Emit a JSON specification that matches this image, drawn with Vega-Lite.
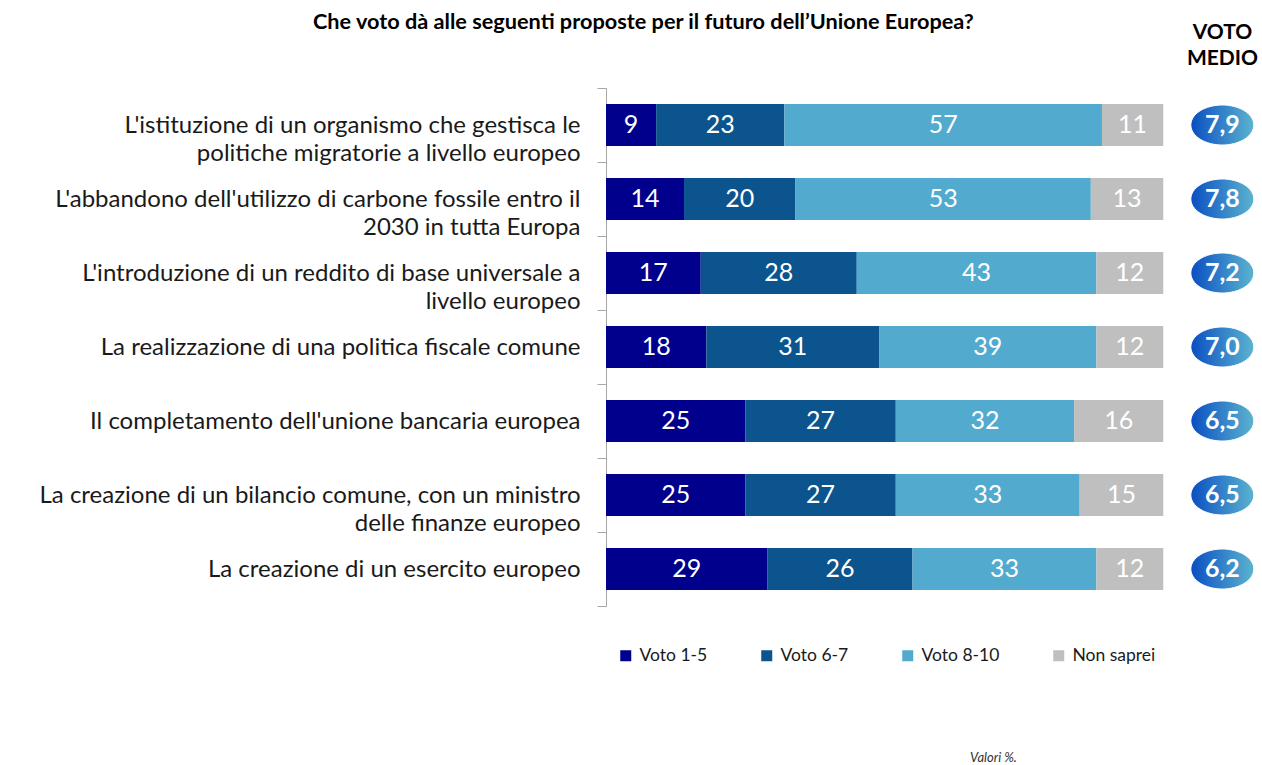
{
  "$schema": "https://vega.github.io/schema/vega-lite/v6.json",
  "autosize": {"type": "none"},
  "padding": {"left": 606, "top": 88, "right": 4, "bottom": 159},
  "width": 652,
  "height": 518,
  "background": "white",
  "config": {"font": "Lato", "view": {"stroke": null}},
  "title": {"text": "Che voto dà alle seguenti proposte per il futuro dell’Unione Europea?", "fontSize": 21.7, "fontWeight": "bold", "color": "#000000", "anchor": "start", "frame": "group", "dx": -293, "offset": -23, "baseline": "middle"},
  "datasets": {
    "bars": [
      {"item": "L'istituzione di un organismo che gestisca le|politiche migratorie a livello europeo", "cat": "Voto 1-5", "k": 1, "v": 9},
      {"item": "L'istituzione di un organismo che gestisca le|politiche migratorie a livello europeo", "cat": "Voto 6-7", "k": 2, "v": 23},
      {"item": "L'istituzione di un organismo che gestisca le|politiche migratorie a livello europeo", "cat": "Voto 8-10", "k": 3, "v": 57},
      {"item": "L'istituzione di un organismo che gestisca le|politiche migratorie a livello europeo", "cat": "Non saprei", "k": 4, "v": 11},
      {"item": "L'abbandono dell'utilizzo di carbone fossile entro il|2030 in tutta Europa", "cat": "Voto 1-5", "k": 1, "v": 14},
      {"item": "L'abbandono dell'utilizzo di carbone fossile entro il|2030 in tutta Europa", "cat": "Voto 6-7", "k": 2, "v": 20},
      {"item": "L'abbandono dell'utilizzo di carbone fossile entro il|2030 in tutta Europa", "cat": "Voto 8-10", "k": 3, "v": 53},
      {"item": "L'abbandono dell'utilizzo di carbone fossile entro il|2030 in tutta Europa", "cat": "Non saprei", "k": 4, "v": 13},
      {"item": "L'introduzione di un reddito di base universale a|livello europeo", "cat": "Voto 1-5", "k": 1, "v": 17},
      {"item": "L'introduzione di un reddito di base universale a|livello europeo", "cat": "Voto 6-7", "k": 2, "v": 28},
      {"item": "L'introduzione di un reddito di base universale a|livello europeo", "cat": "Voto 8-10", "k": 3, "v": 43},
      {"item": "L'introduzione di un reddito di base universale a|livello europeo", "cat": "Non saprei", "k": 4, "v": 12},
      {"item": "La realizzazione di una politica fiscale comune", "cat": "Voto 1-5", "k": 1, "v": 18},
      {"item": "La realizzazione di una politica fiscale comune", "cat": "Voto 6-7", "k": 2, "v": 31},
      {"item": "La realizzazione di una politica fiscale comune", "cat": "Voto 8-10", "k": 3, "v": 39},
      {"item": "La realizzazione di una politica fiscale comune", "cat": "Non saprei", "k": 4, "v": 12},
      {"item": "Il completamento dell'unione bancaria europea", "cat": "Voto 1-5", "k": 1, "v": 25},
      {"item": "Il completamento dell'unione bancaria europea", "cat": "Voto 6-7", "k": 2, "v": 27},
      {"item": "Il completamento dell'unione bancaria europea", "cat": "Voto 8-10", "k": 3, "v": 32},
      {"item": "Il completamento dell'unione bancaria europea", "cat": "Non saprei", "k": 4, "v": 16},
      {"item": "La creazione di un bilancio comune, con un ministro|delle finanze europeo", "cat": "Voto 1-5", "k": 1, "v": 25},
      {"item": "La creazione di un bilancio comune, con un ministro|delle finanze europeo", "cat": "Voto 6-7", "k": 2, "v": 27},
      {"item": "La creazione di un bilancio comune, con un ministro|delle finanze europeo", "cat": "Voto 8-10", "k": 3, "v": 33},
      {"item": "La creazione di un bilancio comune, con un ministro|delle finanze europeo", "cat": "Non saprei", "k": 4, "v": 15},
      {"item": "La creazione di un esercito europeo", "cat": "Voto 1-5", "k": 1, "v": 29},
      {"item": "La creazione di un esercito europeo", "cat": "Voto 6-7", "k": 2, "v": 26},
      {"item": "La creazione di un esercito europeo", "cat": "Voto 8-10", "k": 3, "v": 33},
      {"item": "La creazione di un esercito europeo", "cat": "Non saprei", "k": 4, "v": 12}
    ],
    "medio": [
      {"item": "L'istituzione di un organismo che gestisca le|politiche migratorie a livello europeo", "medio": "7,9"},
      {"item": "L'abbandono dell'utilizzo di carbone fossile entro il|2030 in tutta Europa", "medio": "7,8"},
      {"item": "L'introduzione di un reddito di base universale a|livello europeo", "medio": "7,2"},
      {"item": "La realizzazione di una politica fiscale comune", "medio": "7,0"},
      {"item": "Il completamento dell'unione bancaria europea", "medio": "6,5"},
      {"item": "La creazione di un bilancio comune, con un ministro|delle finanze europeo", "medio": "6,5"},
      {"item": "La creazione di un esercito europeo", "medio": "6,2"}
    ]
  },
  "resolve": {"axis": {"x": "independent"}},
  "encoding": {
    "y": {
      "field": "item", "type": "nominal", "sort": null,
      "scale": {"paddingInner": 0, "paddingOuter": 0},
      "axis": {"title": null, "labelExpr": "split(datum.label, '|')", "labelFontSize": 24, "labelColor": "#1a1a1a", "labelLineHeight": 28, "labelLimit": 0, "labelPadding": 17, "tickBand": "extent", "tickSize": 9, "tickColor": "#a6a6a6", "domainColor": "#a6a6a6",
        "encode": {"labels": {"update": {"dy": {"signal": "indexof(datum.value, '|') >= 0 ? -14 : 0"}}}}}
    }
  },
  "layer": [
    {
      "data": {"name": "bars"},
      "transform": [
        {"stack": "v", "groupby": ["item"], "sort": [{"field": "k", "order": "ascending"}], "as": ["x0", "x1"]},
        {"calculate": "(datum.x0 + datum.x1) / 2", "as": "mid"}
      ],
      "layer": [
        {
          "mark": {"type": "bar", "height": {"band": 0.568}},
          "encoding": {
            "x": {"field": "x0", "type": "quantitative", "scale": {"domain": [0, 117], "nice": false, "zero": true},
              "axis": {"orient": "bottom", "labels": false, "ticks": false, "domain": false, "grid": false, "title": "Valori %.", "titleFontStyle": "italic", "titleFontWeight": "normal", "titleFontSize": 13, "titleColor": "#333333", "titleX": 387, "titleY": 151, "titleAlign": "center", "titleBaseline": "middle"}},
            "x2": {"field": "x1"},
            "color": {"field": "cat", "type": "nominal",
              "scale": {"domain": ["Voto 1-5", "Voto 6-7", "Voto 8-10", "Non saprei"], "range": ["#00008c", "#0b548d", "#52abcf", "#bfbfbf"]},
              "legend": {"orient": "none", "legendX": 11, "legendY": 559, "direction": "horizontal", "columns": 4, "gridAlign": "none", "title": null, "symbolType": "square", "symbolSize": 121, "symbolStrokeWidth": 0, "labelFontSize": 17.5, "labelColor": "#1a1a1a", "labelOffset": 5, "columnPadding": 50}}
          }
        },
        {
          "mark": {"type": "text", "color": "white", "fontSize": 25},
          "encoding": {
            "x": {"field": "mid", "type": "quantitative"},
            "text": {"field": "v", "type": "quantitative"}
          }
        }
      ]
    },
    {
      "data": {"name": "medio"},
      "layer": [
        {
          "mark": {"type": "point", "filled": true, "shape": "M-1,0A1,0.635,0,1,0,1,0A1,0.635,0,1,0,-1,0Z", "size": 3969, "opacity": 1,
            "fill": {"gradient": "linear", "x1": 0, "y1": 0, "x2": 1, "y2": 0, "stops": [{"offset": 0, "color": "#0a4ec2"}, {"offset": 1, "color": "#5cb4cf"}]},
            "stroke": "#ffffff", "strokeWidth": 1},
          "encoding": {
            "x": {"datum": 110.6, "type": "quantitative",
              "axis": {"orient": "top", "labels": false, "ticks": false, "domain": false, "grid": false, "title": ["VOTO", "MEDIO"], "titleFontSize": 21, "titleFontWeight": "bold", "titleColor": "#000000", "titleLineHeight": 26, "titleX": 616, "titleY": -56, "titleAlign": "center", "titleBaseline": "middle", "titleAngle": 0}}
          }
        },
        {
          "mark": {"type": "text", "color": "white", "fontSize": 25, "fontWeight": "bold"},
          "encoding": {
            "x": {"datum": 110.6, "type": "quantitative"},
            "text": {"field": "medio"}
          }
        }
      ]
    }
  ]
}
